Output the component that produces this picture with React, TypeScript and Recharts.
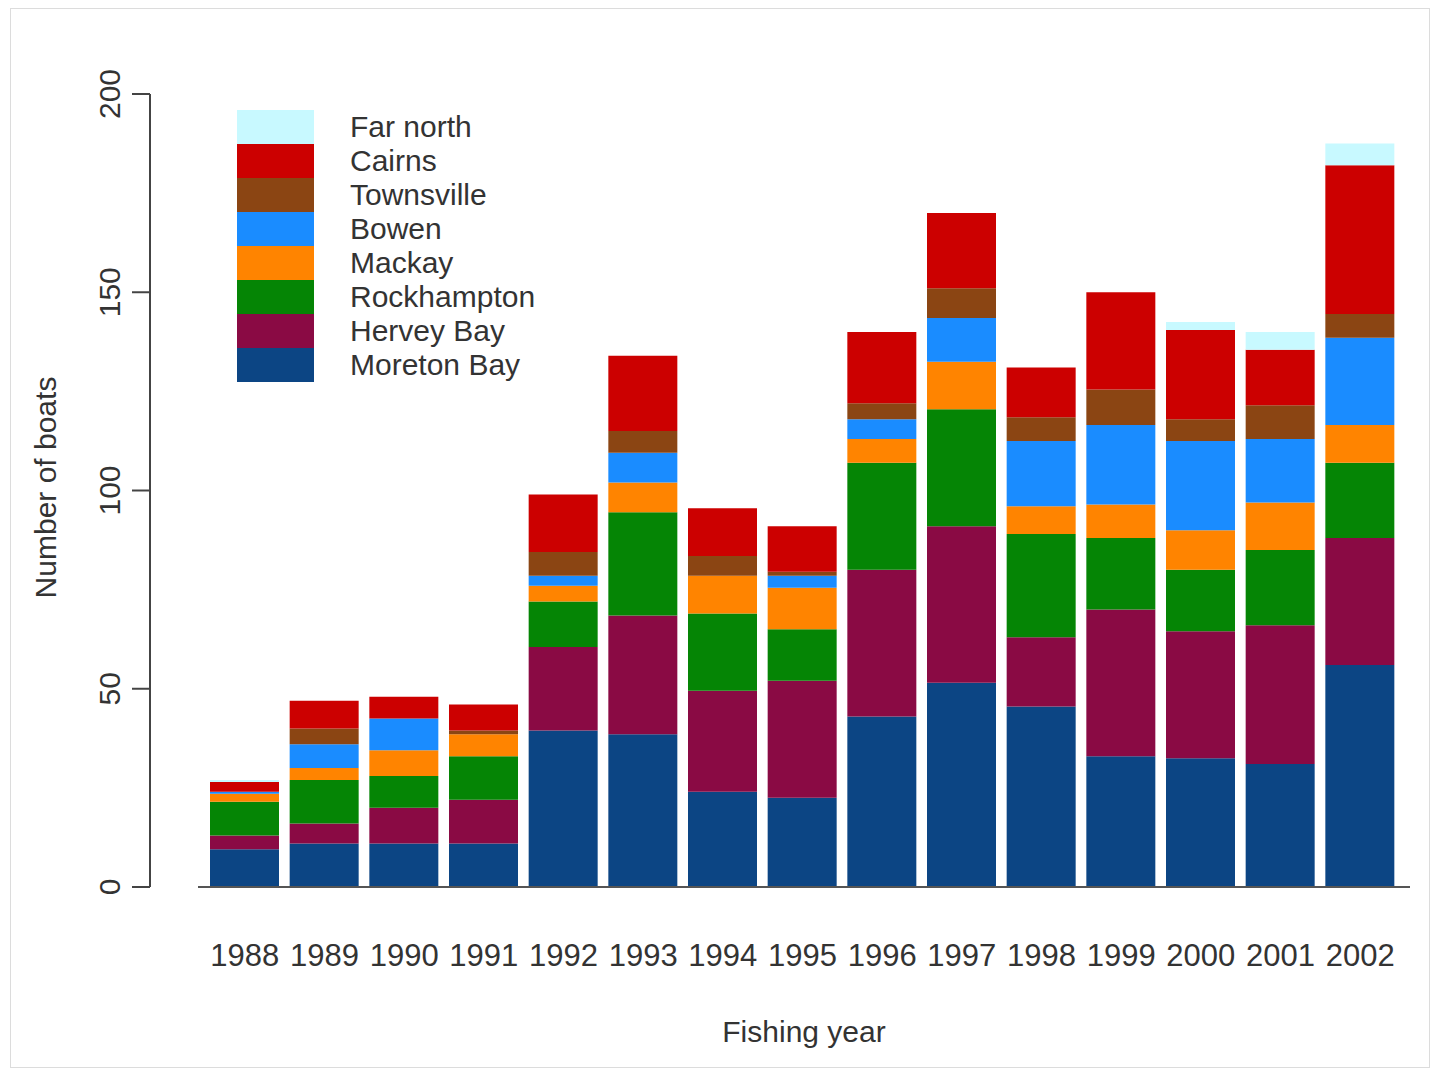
import React from 'react';
import { BarChart, Bar, XAxis, YAxis, Legend, Label } from 'recharts';

const years = ['1988', '1989', '1990', '1991', '1992', '1993', '1994', '1995', '1996', '1997', '1998', '1999', '2000', '2001', '2002'];
const moretonBay = [9.5, 11, 11, 11, 39.5, 38.5, 24, 22.5, 43, 51.5, 45.5, 33, 32.5, 31, 56];
const herveyBay = [3.5, 5, 9, 11, 21, 30, 25.5, 29.5, 37, 39.5, 17.5, 37, 32, 35, 32];
const rockhampton = [8.5, 11, 8, 11, 11.5, 26, 19.5, 13, 27, 29.5, 26, 18, 15.5, 19, 19];
const mackay = [2, 3, 6.5, 5.5, 4, 7.5, 9.5, 10.5, 6, 12, 7, 8.5, 10, 12, 9.5];
const bowen = [0.5, 6, 8, 0, 2.5, 7.5, 0, 3, 5, 11, 16.5, 20, 22.5, 16, 22];
const townsville = [0, 4, 0, 1, 6, 5.5, 5, 1, 4, 7.5, 6, 9, 5.5, 8.5, 6];
const cairns = [2.5, 7, 5.5, 6.5, 14.5, 19, 12, 11.5, 18, 19, 12.5, 24.5, 22.5, 14, 37.5];
const farNorth = [0.5, 0, 0, 0, 0, 0, 0, 0, 0, 0, 0, 0, 2, 4.5, 5.5];
const yTicks = [0, 50, 100, 150, 200];

// bottom-to-top stacking order
const series = [
  { key: 'moreton', name: 'Moreton Bay', values: moretonBay, color: '#0c4584' },
  { key: 'hervey', name: 'Hervey Bay', values: herveyBay, color: '#8a0a44' },
  { key: 'rock', name: 'Rockhampton', values: rockhampton, color: '#058505' },
  { key: 'mackay', name: 'Mackay', values: mackay, color: '#ff8400' },
  { key: 'bowen', name: 'Bowen', values: bowen, color: '#1a8cff' },
  { key: 'townsville', name: 'Townsville', values: townsville, color: '#8b4513' },
  { key: 'cairns', name: 'Cairns', values: cairns, color: '#cc0000' },
  { key: 'farnorth', name: 'Far north', values: farNorth, color: '#c8f9ff' },
];

const data = years.map((year, i) => {
  const row: Record<string, string | number> = { year };
  series.forEach((s) => {
    row[s.key] = s.values[i];
  });
  return row;
});

const FONT = '"Liberation Sans", Arial, Helvetica, sans-serif';
const TEXT = '#333333';

const RotTick = (props: any) => {
  const { x, y, payload } = props;
  return (
    <text
      x={x}
      y={y}
      transform={`rotate(-90 ${x} ${y})`}
      textAnchor="middle"
      fontSize={30}
      fontFamily={FONT}
      fill={TEXT}
    >
      {payload.value}
    </text>
  );
};

const YLabel = (props: any) => {
  const vb = props.viewBox || { x: 0, y: 94, width: 150, height: 793 };
  const cx = vb.x + 56;
  const cy = vb.y + vb.height / 2 - 3;
  return (
    <text
      x={cx}
      y={cy}
      transform={`rotate(-90 ${cx} ${cy})`}
      textAnchor="middle"
      fontSize={30}
      fontFamily={FONT}
      fill={TEXT}
    >
      Number of boats
    </text>
  );
};

const LegendContent = () => {
  const items = [...series].reverse();
  return (
    <div style={{ margin: 0, padding: 0 }}>
      {items.map((s) => (
        <div key={s.key} style={{ display: 'flex', alignItems: 'center', height: 34 }}>
          <div style={{ width: 77, height: 34, background: s.color }} />
          <span
            style={{
              marginLeft: 36,
              fontSize: 30,
              fontFamily: FONT,
              color: TEXT,
              lineHeight: '34px',
              whiteSpace: 'nowrap',
            }}
          >
            {s.name}
          </span>
        </div>
      ))}
    </div>
  );
};

export default function App() {
  const W = 1443;
  const H = 1075;
  return (
    <div style={{ position: 'absolute', left: 0, top: 0, width: W, height: H, background: '#ffffff' }}>
      <div
        style={{
          position: 'absolute',
          left: 10,
          top: 8,
          width: 1420,
          height: 1060,
          border: '1px solid #dcdcdc',
          boxSizing: 'border-box',
        }}
      />
      <BarChart
        width={W}
        height={H}
        data={data}
        margin={{ top: 94, right: 33, bottom: 0, left: 0 }}
        barSize={69}
        style={{ position: 'absolute', left: 0, top: 0 }}
      >
        <XAxis
          dataKey="year"
          padding={{ left: 7, right: 10 }}
          tickLine={false}
          tickSize={0}
          tickMargin={57}
          interval={0}
          height={188}
          axisLine={{ stroke: '#555555', strokeWidth: 2 }}
          tick={{ fontSize: 31, fill: TEXT, fontFamily: FONT }}
        >
          <Label value="Fishing year" position="insideBottom" offset={33} fontSize={30} fill={TEXT} fontFamily={FONT} />
        </XAxis>
        <YAxis yAxisId="gap" width={48} domain={[0, 200]} tick={false} axisLine={false} tickLine={false} />
        <YAxis
          yAxisId="main"
          width={150}
          domain={[0, 200]}
          ticks={yTicks}
          interval={0}
          tickSize={18}
          tickMargin={12}
          tick={<RotTick />}
          axisLine={{ stroke: '#444444', strokeWidth: 2 }}
          tickLine={{ stroke: '#444444', strokeWidth: 2 }}
        >
          <Label content={<YLabel />} />
        </YAxis>
        <Legend
          layout="vertical"
          align="center"
          verticalAlign="middle"
          wrapperStyle={{ left: 237, top: 110, width: 'auto', height: 'auto' }}
          content={<LegendContent />}
        />
        {series.map((s) => (
          <Bar
            key={s.key}
            dataKey={s.key}
            name={s.name}
            stackId="boats"
            yAxisId="main"
            fill={s.color}
            isAnimationActive={false}
          />
        ))}
      </BarChart>
    </div>
  );
}
